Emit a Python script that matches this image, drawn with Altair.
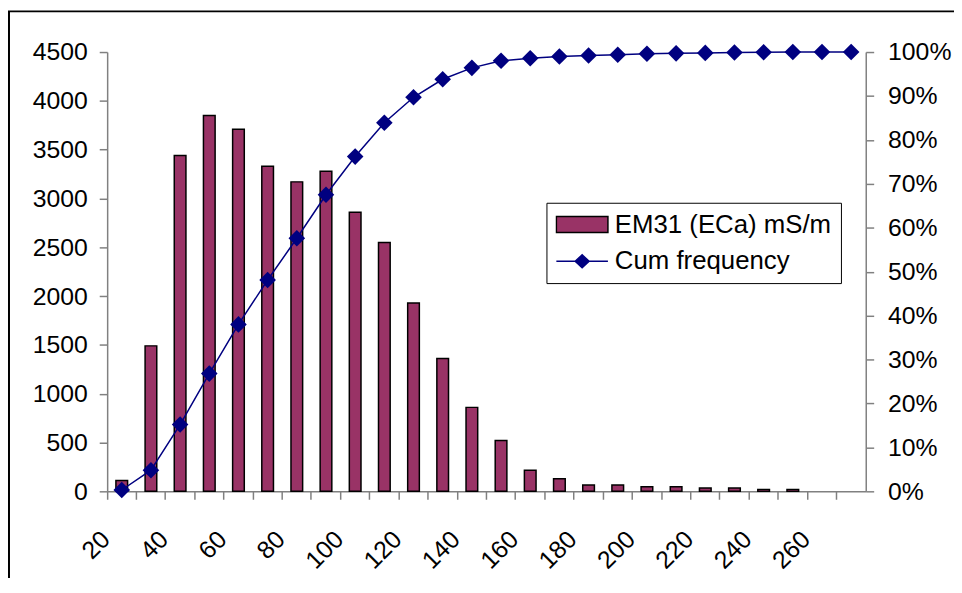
import altair as alt
import pandas as pd

# ---- data ----
bins = [20, 30, 40, 50, 60, 70, 80, 90, 100, 110, 120, 130, 140, 150, 160,
        170, 180, 190, 200, 210, 220, 230, 240, 250, 260, 270]
counts = [110, 1490, 3440, 3850, 3710, 3330, 3170, 3280, 2860, 2550, 1930,
          1360, 860, 520, 215, 130, 65, 65, 48, 48, 34, 34, 20, 20, 0, 0]
cum_pct = [0.3, 4.8, 15.2, 26.8, 38.0, 48.1, 57.6, 67.5, 76.2, 83.9, 89.7,
           93.8, 96.4, 98.0, 98.6, 99.0, 99.2, 99.4, 99.6, 99.7, 99.8, 99.9,
           99.95, 100, 100, 100]
series_names = ["EM31 (ECa) mS/m", "Cum frequency"]
left_ticks = [0, 500, 1000, 1500, 2000, 2500, 3000, 3500, 4000, 4500]
right_ticks = [0, 10, 20, 30, 40, 50, 60, 70, 80, 90, 100]

bar_color = "#993366"
line_color = "#000080"
axis_gray = "#808080"
font = "Liberation Sans"

df = pd.DataFrame({"bin": bins, "count": counts, "cum": cum_pct})
leg_df = pd.DataFrame({"series": series_names})

x_enc = alt.X(
    "bin:O",
    scale=alt.Scale(paddingInner=0, paddingOuter=0),
    axis=alt.Axis(title=None, bandPosition=0, labelAngle=-45, labelAlign="right",
                  labelBaseline="middle", labelPadding=36, labelOffset=-16,
                  tickSize=8, labelOverlap=False,
                  labelExpr="datum.value % 20 == 0 ? datum.label : ''"),
)

border = alt.Chart(pd.DataFrame({"k": [0]})).mark_rect(
    fill="white", fillOpacity=0, stroke="black", strokeWidth=2
).encode(x=alt.value(-99), x2=alt.value(1500), y=alt.value(-41), y2=alt.value(1500))

bars = alt.Chart(df).transform_filter("datum.count > 0").mark_bar(
    color=bar_color, stroke="black", strokeWidth=1.5, width=alt.RelativeBandSize(0.4)
).encode(
    x=x_enc,
    y=alt.Y("count:Q", scale=alt.Scale(domain=[0, 4500], nice=False),
            axis=alt.Axis(title=None, orient="left", values=left_ticks, format="d",
                          tickSize=8, labelPadding=12)),
)

cum = alt.Chart(df).mark_line(
    color=line_color, strokeWidth=1.5,
    point=alt.OverlayMarkDef(shape="diamond", filled=True, size=280, color=line_color),
).encode(
    x=x_enc,
    y=alt.Y("cum:Q", scale=alt.Scale(domain=[0, 100], nice=False),
            axis=alt.Axis(title=None, orient="right", values=right_ticks,
                          labelExpr="datum.value + '%'", tickSize=8, labelPadding=14)),
)

rect_path = "M-1,-0.31L1,-0.31L1,0.31L-1,0.31Z"
line_path = "M-1,0L1,0M-0.27,0L0,-0.25L0.27,0L0,0.25Z"

legend = alt.Legend(
    orient="none", legendX=443, legendY=152, title=None,
    symbolSize=2704, symbolOpacity=1, symbolStrokeWidth=1.5,
    labelFontSize=26, labelFont=font, labelColor="black", labelLimit=400,
    clipHeight=26, rowPadding=11, padding=9, labelOffset=6,
    strokeColor="black", fillColor="white",
)

dummy = alt.Chart(leg_df).mark_point(filled=True, opacity=0).encode(
    color=alt.Color("series:N", scale=alt.Scale(domain=series_names, range=[bar_color, line_color]), legend=legend),
    stroke=alt.Stroke("series:N", scale=alt.Scale(domain=series_names, range=["#000000", line_color]), legend=legend),
    shape=alt.Shape("series:N", scale=alt.Scale(domain=series_names, range=[rect_path, line_path]), legend=legend),
)

chart = alt.layer(border, bars, cum, dummy).resolve_scale(
    y="independent"
).properties(
    width=765, height=443,
    padding={"left": 100, "top": 42, "right": 89, "bottom": 85},
    autosize=alt.AutoSizeParams(type="none"),
    background="white",
).configure_view(stroke=None).configure_axis(
    grid=False, labelFont=font, labelFontSize=25, labelColor="black",
    domainColor=axis_gray, tickColor=axis_gray, domainWidth=1.5, tickWidth=1.5,
)

chart.save("out.html", embed_options={"renderer": "svg", "actions": False})
